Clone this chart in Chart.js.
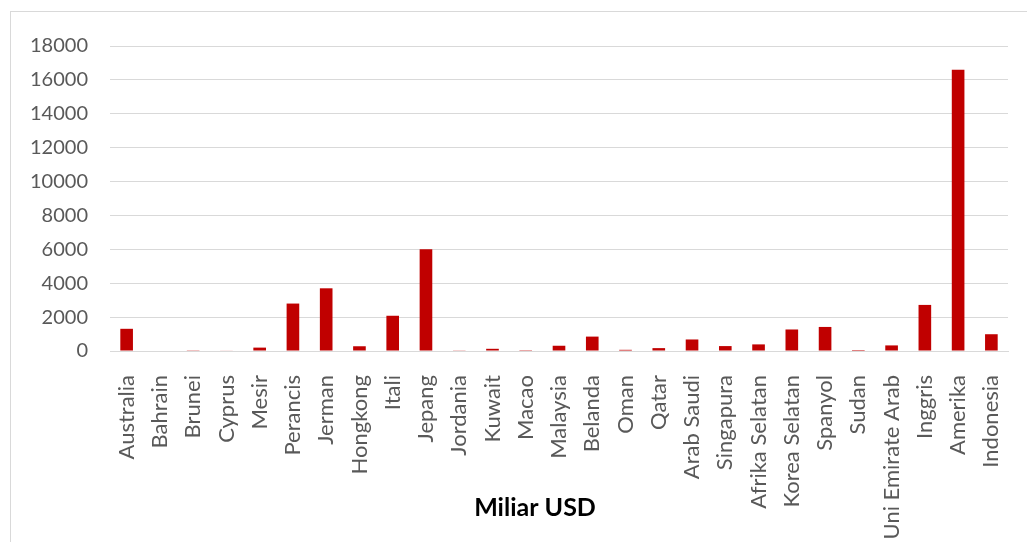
<!DOCTYPE html>
<html>
<head>
<meta charset="utf-8">
<script src="https://cdn.jsdelivr.net/npm/chart.js@4/dist/chart.umd.min.js"></script>
<style>
  html, body { margin: 0; padding: 0; background: #fff; overflow: hidden; }
  #wrap {
    position: absolute; left: 10px; top: 11px;
    width: 1030px; height: 540px;
    border: 1px solid #d9d9d9; box-sizing: border-box;
  }
</style>
</head>
<body>
<div id="wrap"><canvas id="gdpChart"></canvas></div>
<script>
// GDP per negara (miliar USD)
const countries = ["Australia", "Bahrain", "Brunei", "Cyprus", "Mesir", "Perancis", "Jerman",
  "Hongkong", "Itali", "Jepang", "Jordania", "Kuwait", "Macao", "Malaysia", "Belanda", "Oman",
  "Qatar", "Arab Saudi", "Singapura", "Afrika Selatan", "Korea Selatan", "Spanyol", "Sudan",
  "Uni Emirate Arab", "Inggris", "Amerika", "Indonesia"];
const gdpValues = [1310, 30, 15, 25, 200, 2800, 3700, 280, 2080, 6000, 40, 130, 50, 310, 850, 70,
  170, 680, 290, 390, 1270, 1420, 60, 330, 2720, 16600, 990];
const yTicks = [0, 2000, 4000, 6000, 8000, 10000, 12000, 14000, 16000, 18000];
const axisTitle = "Miliar USD";

// --- Axis title, centred on the whole chart (Excel style) ---
const bottomTitle = {
    id: "bottomTitle",
    afterDraw(chart) {
        const c = chart.ctx;
        c.save();
        c.font = "bold 25px Lato";
        c.fillStyle = "#000";
        c.textAlign = "center";
        c.textBaseline = "alphabetic";
        c.fillText(axisTitle, 524, 504);
        c.restore();
    }
};

document.addEventListener("DOMContentLoaded", function () {
    const ctx = document.getElementById("gdpChart").getContext("2d");

    new Chart(ctx, {
        type: "bar",
        data: {
            labels: countries,
            datasets: [{
                data: gdpValues,
                backgroundColor: "#C00000",
                borderWidth: 0,
                barPercentage: 0.76,
                categoryPercentage: 0.5
            }]
        },
        options: {
            responsive: true,
            maintainAspectRatio: false,
            animation: false,
            layout: { padding: { left: 0, right: 31, top: 28, bottom: 0 } },
            plugins: { legend: { display: false }, tooltip: { enabled: false } },
            scales: {
                x: {
                    afterFit: function (axis) { axis.height = 199; },
                    grid: { display: false },
                    border: { color: "#d9d9d9" },
                    ticks: {
                        color: "#595959",
                        font: { family: "Lato", size: 22 },
                        maxRotation: 90, minRotation: 90,
                        autoSkip: false, padding: 16
                    }
                },
                y: {
                    min: 0, max: 18000,
                    afterBuildTicks: function (axis) {
                        axis.ticks = yTicks.map(v => ({ value: v }));
                    },
                    afterFit: function (axis) { axis.width = 99; },
                    grid: { color: "#d9d9d9", drawTicks: false },
                    border: { display: false },
                    ticks: {
                        color: "#595959",
                        font: { family: "Lato", size: 20 },
                        padding: 22,
                        callback: v => String(v)
                    }
                }
            }
        },
        plugins: [bottomTitle]
    });
});
</script>
</body>
</html>
